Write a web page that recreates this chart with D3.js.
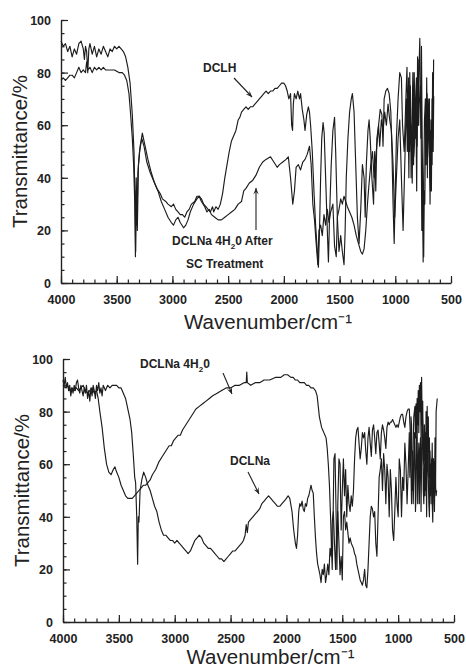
<!DOCTYPE html>
<html>
<head>
<meta charset="utf-8">
<script src="https://cdn.jsdelivr.net/npm/d3@7"></script>
<style>
  html, body { margin: 0; padding: 0; background: #fff; }
  svg { display: block; }
  .tick text { font-family: "Liberation Sans", Arial, sans-serif; font-weight: bold; font-size: 12.5px; fill: #222; }
  .title { font-family: "Liberation Sans", Arial, sans-serif; font-size: 20.5px; fill: #222; }
  .lbl { font-family: "Liberation Sans", Arial, sans-serif; font-weight: bold; font-size: 12px; fill: #222; }
</style>
</head>
<body>
<svg id="chart" width="466" height="669"></svg>
<script>
// ---- Upper panel: DCLH and DCLNa·4H2O after SC treatment ----
const dclh = [[4000,77],[3980,78],[3960,77],[3940,78],[3920,79],[3900,79],[3880,78],[3860,80],[3840,82],[3820,80],[3800,81],[3780,80],[3770,84],[3760,81],[3740,82],[3720,80],[3700,82],[3680,81],[3660,82],[3640,81],[3620,82],[3600,81],[3560,81],[3520,81],[3480,80],[3450,80],[3430,79],[3410,77],[3390,72],[3375,64],[3360,55],[3348,45],[3338,30],[3332,10],[3326,35],[3318,22],[3310,42],[3295,50],[3275,55],[3255,52],[3230,46],[3200,42],[3170,39],[3140,36],[3110,34],[3090,32],[3060,31],[3040,30],[3010,29],[2990,30],[2970,28],[2950,27],[2930,26],[2910,26],[2890,25],[2870,27],[2850,28],[2830,30],[2800,31],[2780,33],[2760,33],[2740,32],[2720,30],[2700,29],[2680,28],[2660,27],[2640,29],[2630,27],[2610,29],[2590,28],[2570,30],[2550,34],[2530,40],[2510,45],[2490,50],[2470,54],[2450,56],[2430,58],[2410,62],[2395,63],[2380,65],[2360,66],[2340,67],[2320,66],[2300,67],[2280,67],[2260,68],[2240,69],[2220,70],[2200,71],[2180,72],[2160,73],[2140,72],[2120,73],[2100,73],[2080,74],[2060,74],[2040,75],[2020,76],[2000,76],[1985,75],[1970,73],[1955,70],[1940,72],[1930,60],[1922,58],[1915,68],[1905,72],[1890,70],[1875,73],[1860,70],[1850,72],[1835,66],[1820,62],[1810,58],[1795,64],[1780,67],[1770,65],[1760,60],[1745,50],[1730,35],[1715,22],[1700,12],[1690,6],[1680,20],[1670,40],[1660,55],[1648,61],[1638,57],[1625,40],[1610,20],[1600,8],[1590,25],[1575,45],[1560,58],[1545,63],[1535,50],[1520,25],[1505,12],[1490,18],[1475,12],[1460,7],[1450,20],[1440,40],[1425,55],[1410,65],[1395,70],[1385,72],[1370,65],[1355,45],[1340,25],[1325,15],[1310,28],[1295,45],[1280,40],[1270,25],[1260,45],[1245,58],[1235,62],[1225,55],[1210,40],[1195,30],[1185,50],[1175,35],[1165,55],[1150,60],[1135,66],[1120,64],[1110,52],[1100,70],[1085,73],[1070,74],[1055,72],[1040,65],[1030,50],[1020,30],[1010,15],[1000,35],[990,55],[975,70],[960,80],[945,78],[935,60],[920,50],[905,70],[895,82],[888,60],[880,78],[872,50],[865,75],[858,40],[850,62],[842,80],[836,45],[830,80],[822,55],[815,70],[808,35],[800,86],[794,60],[788,80],[780,93],[774,70],[768,60],[762,20],[756,45],[750,8],[744,40],[738,62],[730,70],[724,50],[718,78],[712,40],[706,70],[700,55],[694,70],[688,30],[682,58],[676,35],[670,70],[662,55],[656,85]];

const dclnaAfterSC = [[4000,92],[3980,90],[3960,91],[3940,88],[3920,90],[3900,86],[3880,89],[3860,87],[3840,91],[3820,92],[3800,89],[3790,85],[3780,90],[3770,88],[3760,80],[3750,89],[3740,91],[3720,87],[3700,90],[3680,86],[3660,89],[3640,87],[3620,90],[3600,88],[3580,86],[3560,89],[3540,88],[3520,90],[3500,89],[3480,90],[3460,89],[3440,88],[3420,86],[3400,82],[3380,76],[3360,64],[3345,50],[3335,30],[3330,12],[3325,40],[3315,20],[3305,45],[3290,52],[3270,57],[3250,53],[3220,47],[3190,42],[3160,38],[3130,35],[3100,31],[3070,28],[3040,25],[3010,23],[2990,22],[2970,24],[2950,25],[2930,23],[2900,21],[2880,22],[2860,24],[2840,27],[2810,30],[2780,32],[2760,33],[2740,31],[2710,29],[2690,27],[2670,28],[2650,26],[2620,25],[2590,24],[2560,24],[2530,25],[2500,26],[2470,27],[2440,28],[2410,30],[2380,31],[2360,35],[2340,36],[2310,38],[2280,39],[2250,41],[2220,44],[2190,46],[2160,47],[2120,48],[2090,46],[2060,44],[2040,45],[2010,46],[1980,47],[1960,48],[1940,40],[1920,30],[1905,35],[1890,44],[1870,45],[1850,43],[1830,46],[1810,47],[1790,49],[1770,52],[1755,45],[1740,30],[1725,24],[1710,15],[1695,7],[1685,20],[1670,22],[1655,18],[1640,26],[1625,22],[1610,28],[1595,23],[1580,27],[1560,30],[1545,14],[1530,10],[1520,25],[1505,28],[1490,32],[1475,30],[1460,33],[1445,31],[1430,29],[1410,27],[1390,25],[1370,22],[1350,18],[1330,15],[1310,12],[1295,11],[1280,13],[1265,20],[1250,30],[1235,38],[1220,45],[1205,50],[1190,40],[1175,48],[1160,55],[1150,60],[1140,52],[1125,62],[1110,58],[1095,65],[1080,60],[1065,68],[1050,62],[1035,58],[1020,45],[1005,25],[990,40],[975,55],[960,62],[945,40],[930,20],[915,45],[900,70],[892,50],[885,65],[878,40],[870,80],[862,55],[855,60],[848,38],[840,72],[834,48],[825,55],[818,70],[810,78],[804,52],[795,85],[790,60],[785,68],[775,75],[770,55],[765,90],[760,62],[755,40],[750,22],[745,10],[740,35],[735,30],[728,65],[722,45],[715,72],[710,48],[705,55],[698,65],[692,42],[685,35],[680,62],[675,60],[670,45],[665,80],[660,50],[655,71]];

// ---- Lower panel: DCLNa·4H2O and DCLNa ----
const dclna4h2o = [[4000,90],[3980,89],[3960,90],[3940,88],[3920,89],[3900,88],[3880,89],[3860,88],[3840,89],[3820,90],[3800,88],[3780,87],[3760,88],[3740,89],[3720,87],[3700,88],[3685,85],[3670,80],[3650,74],[3630,66],[3610,60],[3590,57],[3570,56],[3550,58],[3535,59],[3520,57],[3500,55],[3480,52],[3460,50],[3440,48],[3420,47],[3400,47],[3380,47],[3360,48],[3340,49],[3320,50],[3300,51],[3280,52],[3260,52],[3240,53],[3220,54],[3200,56],[3170,58],[3140,61],[3110,63],[3080,65],[3050,67],[3030,67],[3010,69],[2990,70],[2970,71],[2950,71],[2930,73],[2900,75],[2870,77],[2840,79],[2810,81],[2780,82],[2750,83],[2720,84],[2690,85],[2660,86],[2620,87],[2580,88],[2540,89],[2500,89],[2460,90],[2420,90],[2380,91],[2360,91],[2355,95],[2350,91],[2320,90],[2280,91],[2240,91],[2200,92],[2150,92],[2100,93],[2050,93],[2020,94],[1990,94],[1960,93],[1940,93],[1920,92],[1900,92],[1880,91],[1860,91],[1840,91],[1820,90],[1800,90],[1780,89],[1760,89],[1740,88],[1725,86],[1715,82],[1705,78],[1695,76],[1685,74],[1675,73],[1665,72],[1655,71],[1645,70],[1635,66],[1625,60],[1615,52],[1605,40],[1598,30],[1590,20],[1582,40],[1575,62],[1565,64],[1555,40],[1548,20],[1540,45],[1530,62],[1520,60],[1510,35],[1500,50],[1490,62],[1480,48],[1470,58],[1460,40],[1450,52],[1440,45],[1430,42],[1420,48],[1410,44],[1400,50],[1390,62],[1380,70],[1370,73],[1360,74],[1350,68],[1340,62],[1330,66],[1320,72],[1310,70],[1300,72],[1290,65],[1280,60],[1270,70],[1260,74],[1250,68],[1240,63],[1230,73],[1220,75],[1210,70],[1200,64],[1190,72],[1180,73],[1170,68],[1160,62],[1150,72],[1140,75],[1130,73],[1120,70],[1110,66],[1100,74],[1090,76],[1080,75],[1070,76],[1060,76],[1050,77],[1040,76],[1030,75],[1020,74],[1010,75],[1000,74],[990,76],[980,78],[970,79],[960,79],[950,76],[940,74],[930,78],[920,80],[910,81],[900,81],[890,70],[880,45],[870,60],[860,78],[850,82],[845,70],[840,83],[835,72],[830,85],[825,75],[820,88],[815,72],[810,90],[805,80],[800,91],[795,70],[790,93],[785,75],[780,84],[775,62],[770,60],[765,75],[760,65],[755,50],[750,80],[745,60],[740,82],[735,65],[730,78],[725,55],[720,70],[715,52],[710,60],[705,45],[700,55],[695,68],[690,45],[685,62],[680,60],[675,48],[670,70],[665,52],[660,80],[650,85]];

const dclna = [[4000,92],[3990,90],[3980,93],[3970,89],[3960,91],[3950,88],[3940,90],[3930,86],[3920,89],[3910,87],[3900,90],[3890,88],[3880,91],[3870,92],[3860,89],[3850,87],[3840,90],[3830,88],[3820,86],[3810,89],[3800,87],[3790,90],[3780,85],[3770,88],[3760,84],[3750,89],[3740,86],[3730,90],[3720,88],[3710,85],[3700,90],[3690,88],[3680,91],[3670,87],[3660,89],[3650,86],[3640,90],[3620,88],[3600,90],[3580,89],[3560,90],[3540,90],[3520,90],[3500,89],[3480,89],[3460,87],[3440,85],[3420,81],[3400,77],[3385,72],[3370,63],[3358,55],[3350,53],[3340,40],[3332,22],[3326,40],[3320,38],[3310,50],[3295,54],[3278,57],[3260,55],[3240,52],[3220,50],[3200,47],[3180,44],[3160,42],[3140,38],[3120,35],[3100,33],[3080,33],[3060,32],[3040,31],[3020,31],[3000,30],[2980,31],[2960,30],[2940,29],[2920,28],[2900,27],[2880,26],[2860,27],[2840,29],[2820,31],[2800,32],[2780,33],[2760,32],[2740,30],[2720,29],[2700,28],[2680,28],[2660,27],[2640,26],[2620,25],[2600,24],[2580,24],[2560,23],[2540,24],[2520,25],[2500,26],[2480,27],[2460,27],[2440,28],[2420,29],[2400,30],[2385,31],[2370,33],[2360,37],[2350,34],[2340,38],[2320,39],[2300,40],[2280,41],[2260,42],[2240,43],[2220,45],[2200,46],[2180,47],[2160,48],[2140,47],[2120,46],[2100,45],[2080,44],[2060,44],[2040,45],[2020,46],[2000,47],[1985,48],[1970,47],[1950,42],[1935,35],[1920,30],[1910,28],[1900,33],[1890,42],[1880,45],[1870,44],[1860,46],[1850,43],[1840,42],[1830,45],[1820,44],[1810,47],[1800,48],[1790,50],[1780,52],[1770,50],[1760,49],[1750,40],[1740,32],[1730,26],[1720,22],[1710,20],[1700,18],[1690,15],[1680,20],[1670,18],[1660,22],[1650,15],[1640,18],[1630,22],[1620,18],[1610,28],[1600,25],[1590,38],[1580,42],[1570,30],[1560,20],[1550,35],[1540,42],[1530,30],[1520,18],[1510,25],[1500,16],[1490,40],[1480,42],[1470,35],[1460,38],[1450,34],[1440,30],[1430,32],[1420,30],[1410,29],[1400,28],[1390,26],[1380,25],[1370,22],[1360,20],[1350,18],[1340,16],[1330,15],[1320,14],[1310,16],[1300,20],[1290,14],[1280,13],[1270,20],[1260,30],[1250,40],[1240,44],[1230,43],[1220,40],[1210,42],[1200,30],[1190,25],[1180,40],[1170,55],[1160,58],[1150,62],[1140,50],[1130,64],[1120,58],[1110,45],[1100,60],[1090,55],[1080,40],[1070,58],[1060,50],[1050,35],[1040,31],[1030,42],[1020,55],[1010,45],[1000,40],[990,62],[980,58],[970,40],[960,55],[950,50],[940,68],[930,60],[920,45],[910,58],[900,72],[895,55],[890,60],[885,78],[880,75],[875,50],[870,65],[865,45],[860,55],[855,72],[850,70],[845,42],[840,48],[835,70],[830,75],[825,45],[820,60],[815,68],[810,45],[805,65],[800,70],[795,42],[790,62],[785,80],[780,75],[775,50],[770,45],[765,60],[760,48],[755,72],[750,60],[745,40],[740,72],[735,62],[730,55],[725,45],[720,40],[715,65],[710,48],[705,55],[700,62],[695,45],[690,38],[685,62],[680,55],[675,42],[670,60],[665,52],[660,48],[655,50]];

const xTicks = [4000, 3500, 3000, 2500, 2000, 1500, 1000, 500];
const yTicks = [0, 20, 40, 60, 80, 100];
const xTitle = "Wavenumber/cm\u207B\u00B9";
const yTitle = "Transmittance/%";

const svg = d3.select("#chart");

function panel(cfg) {
  const x = d3.scaleLinear().domain([4000, 500]).range([cfg.x0, cfg.x1]);
  const y = d3.scaleLinear().domain([0, 100]).range([cfg.y0, cfg.y1]);
  const g = svg.append("g");

  // minor ticks (every 100 cm-1, every 5 %)
  g.append("g").attr("transform", `translate(0,${cfg.y0})`)
    .call(d3.axisBottom(x).tickValues(d3.range(4000, 499, -100)).tickSize(-3.5).tickFormat(""))
    .call(a => a.select(".domain").remove())
    .selectAll("line").attr("stroke", "#222").attr("stroke-width", 1.2);
  g.append("g").attr("transform", `translate(${cfg.x0},0)`)
    .call(d3.axisLeft(y).tickValues(d3.range(0, 101, 5)).tickSize(-3.5).tickFormat(""))
    .call(a => a.select(".domain").remove())
    .selectAll("line").attr("stroke", "#222").attr("stroke-width", 1.2);

  // major ticks with labels
  const xa = g.append("g").attr("transform", `translate(0,${cfg.y0})`)
    .call(d3.axisBottom(x).tickValues(xTicks).tickFormat(d3.format("d"))
      .tickSize(-7).tickPadding(12).tickSizeOuter(0));
  xa.select(".domain").attr("stroke", "#222").attr("stroke-width", 1.4);
  xa.selectAll("line").attr("stroke", "#222").attr("stroke-width", 1.2);
  const ya = g.append("g").attr("transform", `translate(${cfg.x0},0)`)
    .call(d3.axisLeft(y).tickValues(yTicks).tickFormat(d3.format("d"))
      .tickSize(-7).tickPadding(10).tickSizeOuter(0));
  ya.select(".domain").attr("stroke", "#222").attr("stroke-width", 1.4);
  ya.selectAll("line").attr("stroke", "#222").attr("stroke-width", 1.2);
  ya.selectAll("text").attr("dy", "0.36em");

  // spectra
  const line = d3.line().x(d => x(d[0])).y(d => y(d[1]));
  cfg.series.forEach(s => {
    g.append("path").datum(s).attr("d", line)
      .attr("fill", "none").attr("stroke", "#1c1c1c").attr("stroke-width", 1.15)
      .attr("stroke-linejoin", "round");
  });

  // axis titles
  g.append("text").attr("class", "title").attr("text-anchor", "middle")
    .attr("x", (cfg.x0 + cfg.x1) / 2 + 12).attr("y", cfg.y0 + cfg.titleGap).text(xTitle);
  g.append("text").attr("class", "title").attr("text-anchor", "middle")
    .attr("transform", `translate(${cfg.x0 - 34},${(cfg.y0 + cfg.y1) / 2}) rotate(-90)`)
    .text(yTitle);
  return { g, x, y };
}

function arrow(g, x1, y1, x2, y2) {
  g.append("line").attr("x1", x1).attr("y1", y1).attr("x2", x2).attr("y2", y2)
    .attr("stroke", "#222").attr("stroke-width", 1.1);
  const ang = Math.atan2(y2 - y1, x2 - x1), L = 7, w = 0.4;
  const p = [[x2, y2],
    [x2 - L * Math.cos(ang - w), y2 - L * Math.sin(ang - w)],
    [x2 - 0.55 * L * Math.cos(ang), y2 - 0.55 * L * Math.sin(ang)],
    [x2 - L * Math.cos(ang + w), y2 - L * Math.sin(ang + w)]];
  g.append("path").attr("d", "M" + p.join("L") + "Z").attr("fill", "#222");
}

function h2oLabel(sel, prefix, suffix) {
  sel.append("tspan").text(prefix + "H");
  sel.append("tspan").attr("font-size", "8px").attr("dy", 4).text("2");
  sel.append("tspan").attr("dy", -4).text("0" + suffix);
}

const upperPanel = panel({ x0: 61, x1: 451, y0: 283, y1: 20, titleGap: 46, series: [dclh, dclnaAfterSC] });
upperPanel.g.append("text").attr("class", "lbl").attr("x", 203).attr("y", 72).text("DCLH");
arrow(upperPanel.g, 234, 78, 252, 97);
h2oLabel(upperPanel.g.append("text").attr("class", "lbl").attr("x", 172).attr("y", 245), "DCLNa 4", " After");
upperPanel.g.append("text").attr("class", "lbl").attr("x", 186).attr("y", 268).text("SC Treatment");
arrow(upperPanel.g, 256, 230, 256, 188);

const lowerPanel = panel({ x0: 63, x1: 454, y0: 622, y1: 359, titleGap: 42, series: [dclna4h2o, dclna] });
h2oLabel(lowerPanel.g.append("text").attr("class", "lbl").attr("x", 140).attr("y", 368), "DCLNa 4", "");
arrow(lowerPanel.g, 223, 373, 232, 394);
lowerPanel.g.append("text").attr("class", "lbl").attr("x", 230).attr("y", 465).text("DCLNa");
arrow(lowerPanel.g, 248, 472, 259, 494);
</script>
</body>
</html>
